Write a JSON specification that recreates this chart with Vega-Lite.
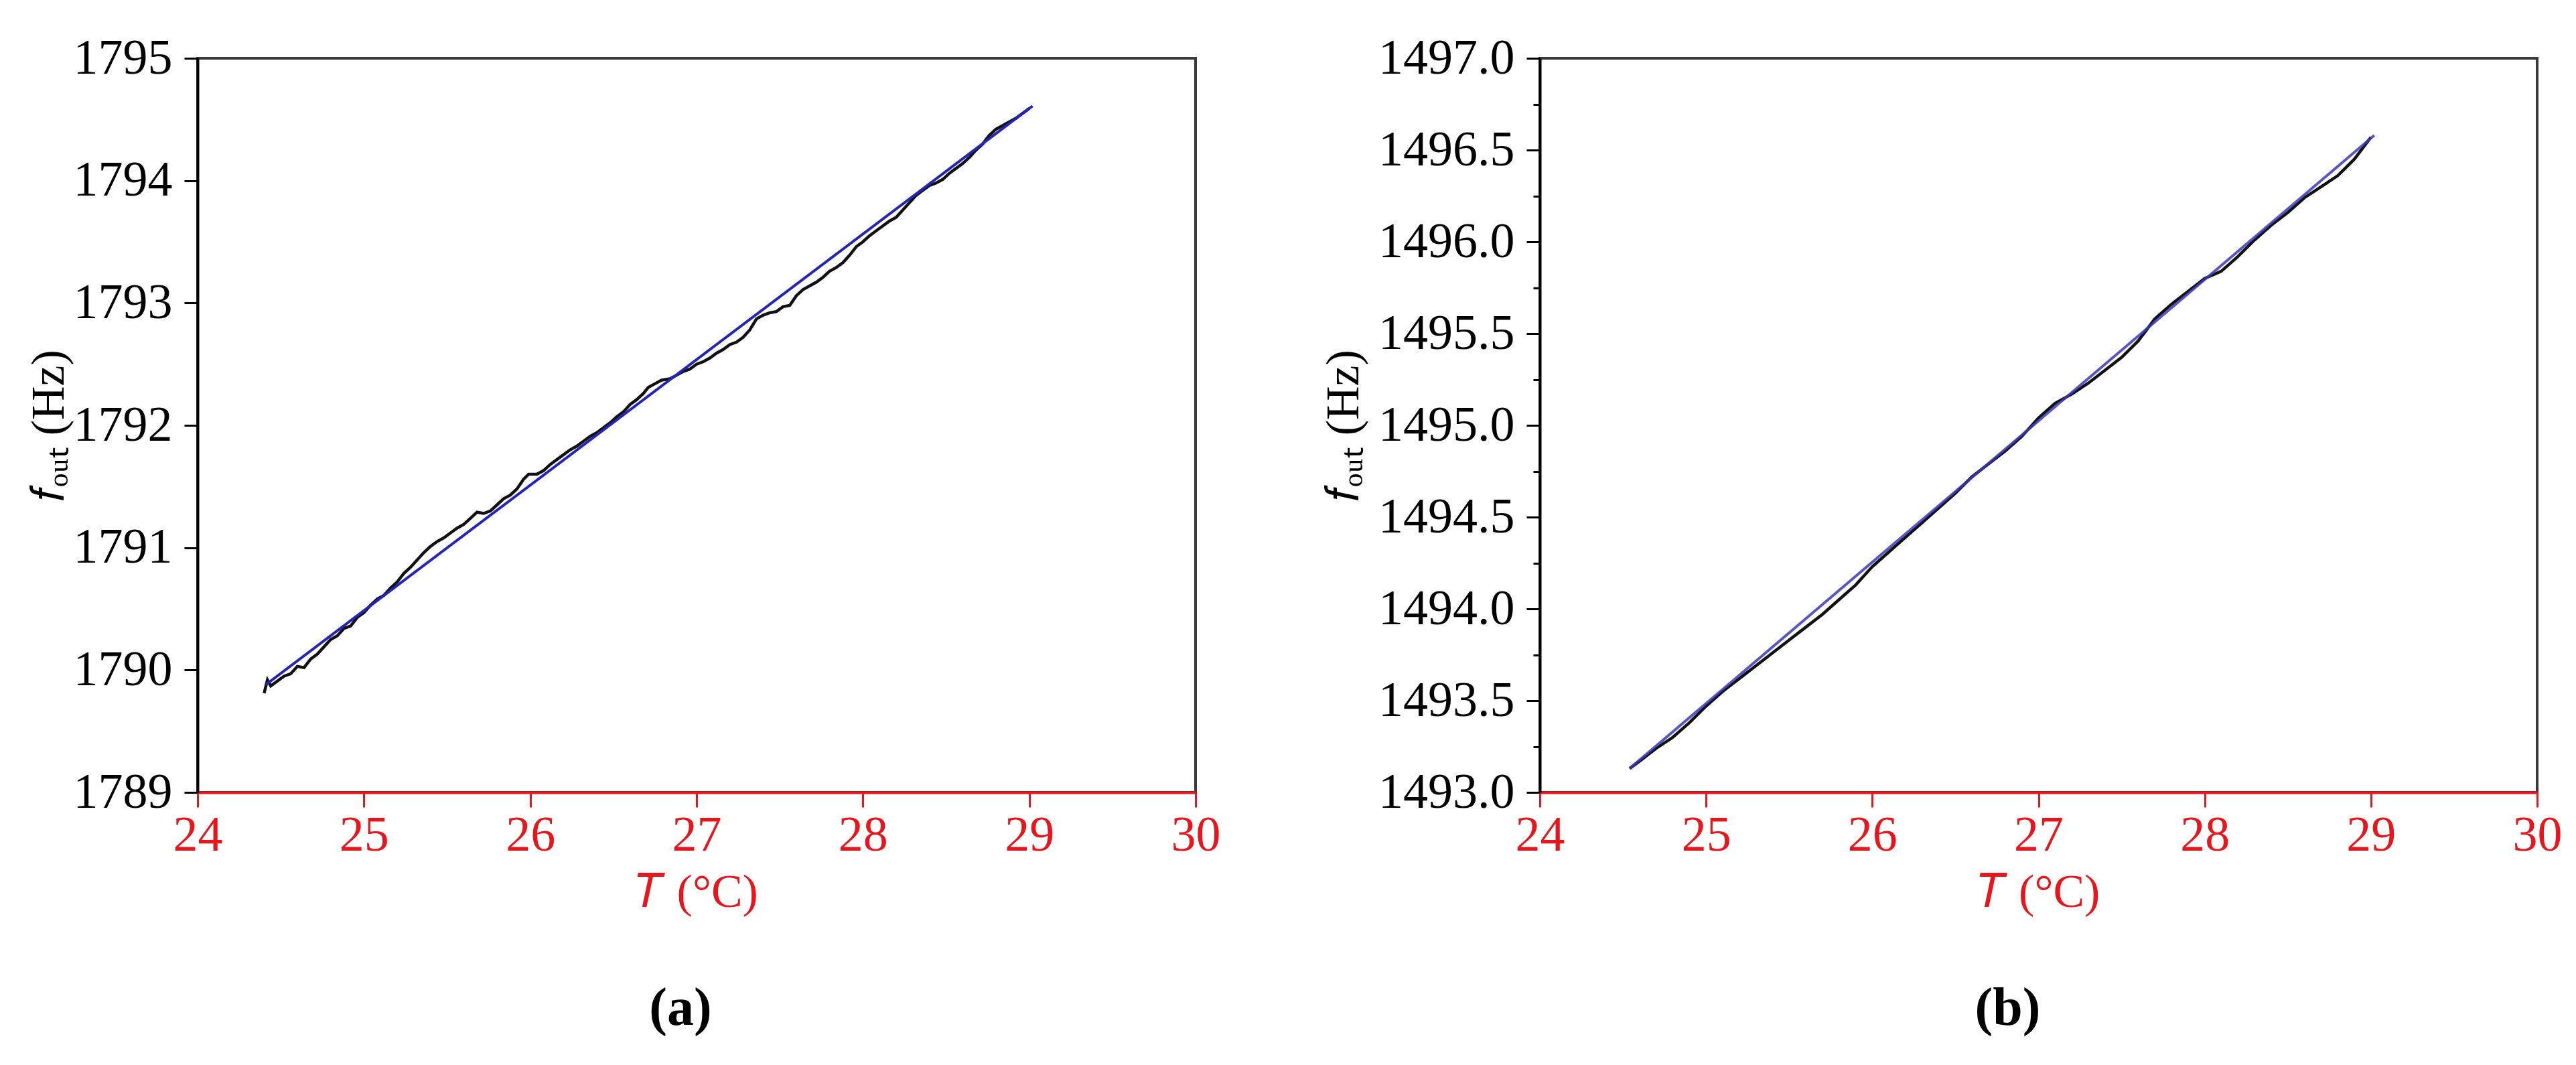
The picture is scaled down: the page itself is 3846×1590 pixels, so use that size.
{
  "$schema": "https://vega.github.io/schema/vega-lite/v6.json",
  "background": "white",
  "padding": {"left": 36, "top": 48, "right": 10, "bottom": 10},
  "config": {
    "view": {"stroke": "#3a3a3a", "strokeWidth": 4},
    "font": "Liberation Serif"
  },
  "datasets": {
    "a_meas": [
      {"T":24.40,"f":1789.81},{"T":24.42,"f":1789.92},{"T":24.44,"f":1789.87},{"T":24.48,"f":1789.91},{"T":24.52,"f":1789.95},{"T":24.56,"f":1789.97},{"T":24.60,"f":1790.03},{"T":24.64,"f":1790.02},{"T":24.68,"f":1790.09},{"T":24.72,"f":1790.13},{"T":24.76,"f":1790.19},{"T":24.80,"f":1790.25},{"T":24.84,"f":1790.28},{"T":24.88,"f":1790.34},{"T":24.92,"f":1790.36},{"T":24.96,"f":1790.43},{"T":25.00,"f":1790.47},{"T":25.04,"f":1790.53},{"T":25.08,"f":1790.58},{"T":25.12,"f":1790.61},{"T":25.16,"f":1790.67},{"T":25.20,"f":1790.72},{"T":25.24,"f":1790.79},{"T":25.28,"f":1790.84},{"T":25.32,"f":1790.90},{"T":25.36,"f":1790.96},{"T":25.40,"f":1791.01},{"T":25.44,"f":1791.05},{"T":25.48,"f":1791.08},{"T":25.52,"f":1791.12},{"T":25.56,"f":1791.16},{"T":25.60,"f":1791.19},{"T":25.64,"f":1791.24},{"T":25.68,"f":1791.29},{"T":25.72,"f":1791.28},{"T":25.76,"f":1791.30},{"T":25.80,"f":1791.35},{"T":25.84,"f":1791.40},{"T":25.88,"f":1791.43},{"T":25.92,"f":1791.48},{"T":25.96,"f":1791.56},{"T":25.99,"f":1791.60},{"T":26.04,"f":1791.60},{"T":26.08,"f":1791.63},{"T":26.12,"f":1791.68},{"T":26.16,"f":1791.72},{"T":26.20,"f":1791.76},{"T":26.24,"f":1791.80},{"T":26.28,"f":1791.83},{"T":26.32,"f":1791.87},{"T":26.36,"f":1791.91},{"T":26.40,"f":1791.94},{"T":26.44,"f":1791.98},{"T":26.48,"f":1792.02},{"T":26.52,"f":1792.07},{"T":26.56,"f":1792.11},{"T":26.60,"f":1792.17},{"T":26.64,"f":1792.21},{"T":26.68,"f":1792.26},{"T":26.71,"f":1792.31},{"T":26.75,"f":1792.34},{"T":26.79,"f":1792.37},{"T":26.84,"f":1792.38},{"T":26.88,"f":1792.41},{"T":26.92,"f":1792.44},{"T":26.96,"f":1792.46},{"T":27.00,"f":1792.50},{"T":27.04,"f":1792.52},{"T":27.08,"f":1792.55},{"T":27.12,"f":1792.59},{"T":27.16,"f":1792.62},{"T":27.20,"f":1792.66},{"T":27.24,"f":1792.68},{"T":27.28,"f":1792.72},{"T":27.32,"f":1792.78},{"T":27.36,"f":1792.87},{"T":27.40,"f":1792.90},{"T":27.44,"f":1792.92},{"T":27.48,"f":1792.93},{"T":27.52,"f":1792.97},{"T":27.56,"f":1792.98},{"T":27.60,"f":1793.06},{"T":27.64,"f":1793.11},{"T":27.68,"f":1793.14},{"T":27.72,"f":1793.17},{"T":27.76,"f":1793.21},{"T":27.80,"f":1793.26},{"T":27.84,"f":1793.29},{"T":27.88,"f":1793.33},{"T":27.92,"f":1793.39},{"T":27.96,"f":1793.46},{"T":28.00,"f":1793.50},{"T":28.04,"f":1793.55},{"T":28.08,"f":1793.59},{"T":28.12,"f":1793.63},{"T":28.16,"f":1793.67},{"T":28.20,"f":1793.70},{"T":28.24,"f":1793.76},{"T":28.28,"f":1793.82},{"T":28.32,"f":1793.88},{"T":28.36,"f":1793.92},{"T":28.40,"f":1793.96},{"T":28.44,"f":1793.98},{"T":28.48,"f":1794.01},{"T":28.52,"f":1794.06},{"T":28.56,"f":1794.10},{"T":28.60,"f":1794.14},{"T":28.64,"f":1794.19},{"T":28.68,"f":1794.25},{"T":28.72,"f":1794.30},{"T":28.76,"f":1794.37},{"T":28.80,"f":1794.42},{"T":28.84,"f":1794.45},{"T":28.88,"f":1794.48},{"T":28.92,"f":1794.51},{"T":28.96,"f":1794.55},{"T":29.00,"f":1794.59}
    ],
    "a_fit": [{"T":24.41,"f":1789.88},{"T":29.02,"f":1794.61}],
    "b_meas": [
      {"T":24.54,"f":1493.13},{"T":24.60,"f":1493.17},{"T":24.70,"f":1493.24},{"T":24.80,"f":1493.30},{"T":24.90,"f":1493.38},{"T":25.00,"f":1493.47},{"T":25.10,"f":1493.55},{"T":25.20,"f":1493.62},{"T":25.30,"f":1493.69},{"T":25.40,"f":1493.76},{"T":25.50,"f":1493.83},{"T":25.60,"f":1493.90},{"T":25.70,"f":1493.97},{"T":25.80,"f":1494.05},{"T":25.90,"f":1494.13},{"T":26.00,"f":1494.23},{"T":26.10,"f":1494.31},{"T":26.20,"f":1494.39},{"T":26.30,"f":1494.47},{"T":26.40,"f":1494.55},{"T":26.50,"f":1494.63},{"T":26.60,"f":1494.72},{"T":26.70,"f":1494.79},{"T":26.80,"f":1494.86},{"T":26.90,"f":1494.94},{"T":27.00,"f":1495.04},{"T":27.10,"f":1495.12},{"T":27.20,"f":1495.17},{"T":27.30,"f":1495.23},{"T":27.40,"f":1495.30},{"T":27.50,"f":1495.37},{"T":27.60,"f":1495.46},{"T":27.70,"f":1495.58},{"T":27.80,"f":1495.66},{"T":27.90,"f":1495.73},{"T":28.00,"f":1495.80},{"T":28.10,"f":1495.84},{"T":28.20,"f":1495.92},{"T":28.30,"f":1496.01},{"T":28.40,"f":1496.09},{"T":28.50,"f":1496.16},{"T":28.60,"f":1496.24},{"T":28.70,"f":1496.30},{"T":28.80,"f":1496.36},{"T":28.90,"f":1496.45},{"T":29.00,"f":1496.57}
    ],
    "b_fit": [{"T":24.54,"f":1493.13},{"T":29.02,"f":1496.58}]
  },
  "bounds": "flush",
  "spacing": 514,
  "hconcat": [
    {
      "width": 1490,
      "height": 1096,
      "title": {"text": "(a)", "orient": "bottom", "frame": "group", "anchor": "middle", "dx": -24, "offset": 100, "font": "Liberation Serif", "fontSize": 80, "fontWeight": "bold", "color": "black"},
      "encoding": {
        "x": {
          "field": "T", "type": "quantitative",
          "scale": {"domain": [24, 30], "nice": false, "zero": false},
          "axis": {
            "title": "𝑇 (°C)",
            "values": [24, 24.5, 25, 25.5, 26, 26.5, 27, 27.5, 28, 28.5, 29, 29.5, 30],
            "format": "d",
            "labelExpr": "datum.value % 1 === 0 ? datum.label : ''",
            "tickSize": {"condition": {"test": "datum.value % 1 !== 0", "value": 11}, "value": 22},
            "tickWidth": 3, "tickColor": "#e8161c",
            "domainColor": "#e8161c", "domainWidth": 4,
            "labelColor": "#e8161c", "titleColor": "#e8161c",
            "labelFont": "Liberation Serif", "labelFontSize": 74, "labelPadding": 6, "labelLimit": 1000,
            "labelFlush": false, "labelOverlap": false, "grid": false,
            "titleFont": "Liberation Serif", "titleFontSize": 70, "titleFontWeight": "normal", "titlePadding": 14
          }
        },
        "y": {
          "field": "f", "type": "quantitative",
          "scale": {"domain": [1789, 1795], "nice": false, "zero": false},
          "axis": {
            "title": "𝑓ₒᵤₜ (Hz)",
            "values": [1789, 1789.5, 1790, 1790.5, 1791, 1791.5, 1792, 1792.5, 1793, 1793.5, 1794, 1794.5, 1795],
            "labelExpr": "datum.value % 1 === 0 ? datum.label : ''",
            "format": "d",
            "tickSize": {"condition": {"test": "datum.value % 1 !== 0", "value": 10}, "value": 20},
            "tickWidth": 3, "tickColor": "black",
            "domainColor": "black", "domainWidth": 4,
            "labelColor": "black", "titleColor": "black",
            "labelFont": "Liberation Serif", "labelFontSize": 74, "labelPadding": 18, "labelLimit": 1000,
            "labelFlush": false, "labelOverlap": false, "grid": false,
            "titleFont": "Liberation Serif", "titleFontSize": 70, "titleFontWeight": "normal",
            "titleX": -222, "titleY": 548, "titleBaseline": "middle", "titleAlign": "center", "titleAngle": -90
          }
        }
      },
      "layer": [
        {"data": {"name": "a_meas"}, "mark": {"type": "line", "color": "#111111", "strokeWidth": 4.5}},
        {"data": {"name": "a_fit"}, "mark": {"type": "line", "color": "#2424b8", "strokeWidth": 4}}
      ]
    },
    {
      "width": 1489,
      "height": 1096,
      "title": {"text": "(b)", "orient": "bottom", "frame": "group", "anchor": "middle", "dx": -46, "offset": 100, "font": "Liberation Serif", "fontSize": 80, "fontWeight": "bold", "color": "black"},
      "encoding": {
        "x": {
          "field": "T", "type": "quantitative",
          "scale": {"domain": [24, 30], "nice": false, "zero": false},
          "axis": {
            "title": "𝑇 (°C)",
            "values": [24, 24.5, 25, 25.5, 26, 26.5, 27, 27.5, 28, 28.5, 29, 29.5, 30],
            "format": "d",
            "labelExpr": "datum.value % 1 === 0 ? datum.label : ''",
            "tickSize": {"condition": {"test": "datum.value % 1 !== 0", "value": 11}, "value": 22},
            "tickWidth": 3, "tickColor": "#e8161c",
            "domainColor": "#e8161c", "domainWidth": 4,
            "labelColor": "#e8161c", "titleColor": "#e8161c",
            "labelFont": "Liberation Serif", "labelFontSize": 74, "labelPadding": 6, "labelLimit": 1000,
            "labelFlush": false, "labelOverlap": false, "grid": false,
            "titleFont": "Liberation Serif", "titleFontSize": 70, "titleFontWeight": "normal", "titlePadding": 14
          }
        },
        "y": {
          "field": "f", "type": "quantitative",
          "scale": {"domain": [1493, 1497], "nice": false, "zero": false},
          "axis": {
            "title": "𝑓ₒᵤₜ (Hz)",
            "values": [1493, 1493.25, 1493.5, 1493.75, 1494, 1494.25, 1494.5, 1494.75, 1495, 1495.25, 1495.5, 1495.75, 1496, 1496.25, 1496.5, 1496.75, 1497],
            "format": ".1f",
            "labelExpr": "datum.value % 0.5 === 0 ? datum.label : ''",
            "tickSize": {"condition": {"test": "datum.value % 0.5 !== 0", "value": 10}, "value": 20},
            "tickWidth": 3, "tickColor": "black",
            "domainColor": "black", "domainWidth": 4,
            "labelColor": "black", "titleColor": "black",
            "labelFont": "Liberation Serif", "labelFontSize": 74, "labelPadding": 18, "labelLimit": 1000,
            "labelFlush": false, "labelOverlap": false, "grid": false,
            "titleFont": "Liberation Serif", "titleFontSize": 70, "titleFontWeight": "normal",
            "titleX": -293, "titleY": 548, "titleBaseline": "middle", "titleAlign": "center", "titleAngle": -90
          }
        }
      },
      "layer": [
        {"data": {"name": "b_meas"}, "mark": {"type": "line", "color": "#111111", "strokeWidth": 4.5}},
        {"data": {"name": "b_fit"}, "mark": {"type": "line", "color": "#3a3ab8", "strokeWidth": 4, "opacity": 0.85}}
      ]
    }
  ]
}
